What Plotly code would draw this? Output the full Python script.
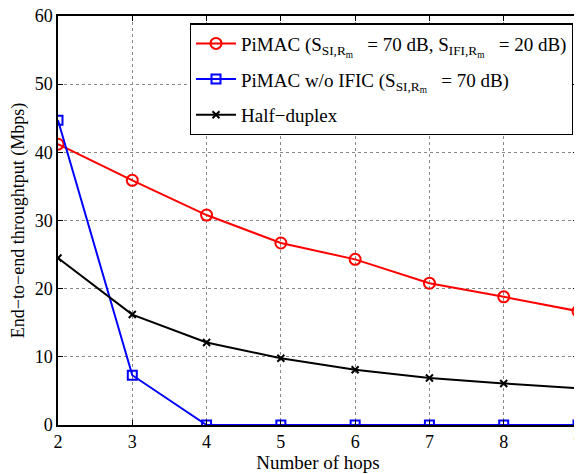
import plotly.graph_objects as go

hops = [2, 3, 4, 5, 6, 7, 8, 9]
pimac = [41.2, 35.9, 30.8, 26.7, 24.3, 20.8, 18.8, 16.7]
pimac_no_ific = [44.7, 7.3, 0, 0, 0, 0, 0, 0]
half_duplex = [24.5, 16.2, 12.1, 9.8, 8.1, 6.9, 6.1, 5.4]

NB = "\u00a0"
names = [
    f"PiMAC (S<sub>SI,R<sub>m</sub></sub>{NB}{NB} = 70 dB, S<sub>IFI,R<sub>m</sub></sub>{NB}{NB} = 20 dB)",
    f"PiMAC w/o IFIC (S<sub>SI,R<sub>m</sub></sub>{NB}{NB} = 70 dB)",
    "Half\u2212duplex",
]

FAM = "Liberation Serif"

fig = go.Figure()
fig.add_trace(go.Scatter(x=hops, y=pimac, mode="lines+markers", name=names[0], legendgroup="a",
                         line=dict(color="#ff0000", width=2),
                         marker=dict(symbol="circle-open", size=11, color="#ff0000", line=dict(width=2))))
fig.add_trace(go.Scatter(x=hops, y=pimac_no_ific, mode="lines+markers", name=names[1], legendgroup="b",
                         line=dict(color="#0000ff", width=2),
                         marker=dict(symbol="square-open", size=9, color="#0000ff", line=dict(width=2))))
fig.add_trace(go.Scatter(x=hops, y=half_duplex, mode="lines+markers", name=names[2], legendgroup="c",
                         line=dict(color="#000000", width=2),
                         marker=dict(symbol="x-thin-open", size=7, color="#000000", line=dict(width=2))))

axis_common = dict(showline=True, linecolor="black", linewidth=1.5, mirror="allticks",
                   ticks="inside", ticklen=5, tickcolor="black",
                   showgrid=True, gridcolor="#888888", griddash="dot", gridwidth=1,
                   zeroline=False, automargin=False, ticklabeloverflow="allow",
                   tickfont=dict(family=FAM, size=18, color="black"))

fig.update_xaxes(range=[2, 9], tickvals=hops,
                 title=dict(text="Number of hops", font=dict(family=FAM, size=19, color="black"), standoff=2),
                 **axis_common)
fig.update_yaxes(range=[0, 60], dtick=10,
                 title=dict(text="End\u2212to\u2212end throughtput (Mbps)", font=dict(family=FAM, size=18, color="black"), standoff=5),
                 **axis_common)

# page body has an 8px margin; compensate so the plot sits where the reference has it
fig.update_layout(
    width=574, height=466,
    margin=dict(l=50, r=4, t=8, b=49),
    paper_bgcolor="white", plot_bgcolor="white",
    font=dict(family=FAM, color="black", size=18),
    showlegend=True,
    legend=dict(x=0.99, y=0.982, xanchor="right", yanchor="top",
                bgcolor="white", bordercolor="black", borderwidth=1.2,
                font=dict(family=FAM, size=19, color="black"), itemwidth=40, tracegroupgap=8),
)

fig.write_html("out.html")
